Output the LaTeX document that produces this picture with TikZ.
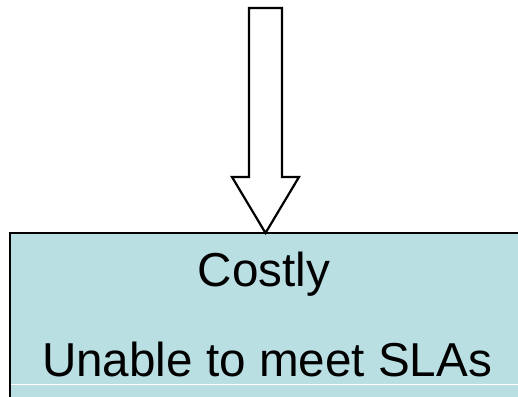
\documentclass[tikz,border=0pt]{standalone}
\usepackage{fontspec}
\setmainfont{Liberation Sans}
\definecolor{boxfill}{RGB}{185,223,227}
\begin{document}
\begin{tikzpicture}[x=1pt,y=1pt,
  outline/.style={draw=black,line width=2.2pt,line join=miter},
  label/.style={anchor=base,inner sep=0pt,font=\fontsize{47.6}{56}\selectfont}]
\useasboundingbox (0,0) rectangle (518,396);
\clip (0,0) rectangle (518,396);
% result box, running off the right and bottom edges
\fill[boxfill] (10,-10) rectangle (540,163);
\draw[black,line width=1.6pt] (10,-10) -- (10,163) -- (540,163);
\draw[white,line width=1pt] (11,12) -- (540,12);
% downward block arrow
\coordinate (tip) at (265.5,163);
\draw[outline,fill=white] (249,388) -- (282,388) -- (282,219) -- (299,219)
  -- (tip) -- (232,219) -- (249,219) -- cycle;
% texts
\node[label] (costly) at (264,109.5) {Costly};
\node[label] (sla) at (267,19.5) {Unable to meet SLAs};
\end{tikzpicture}
\end{document}
